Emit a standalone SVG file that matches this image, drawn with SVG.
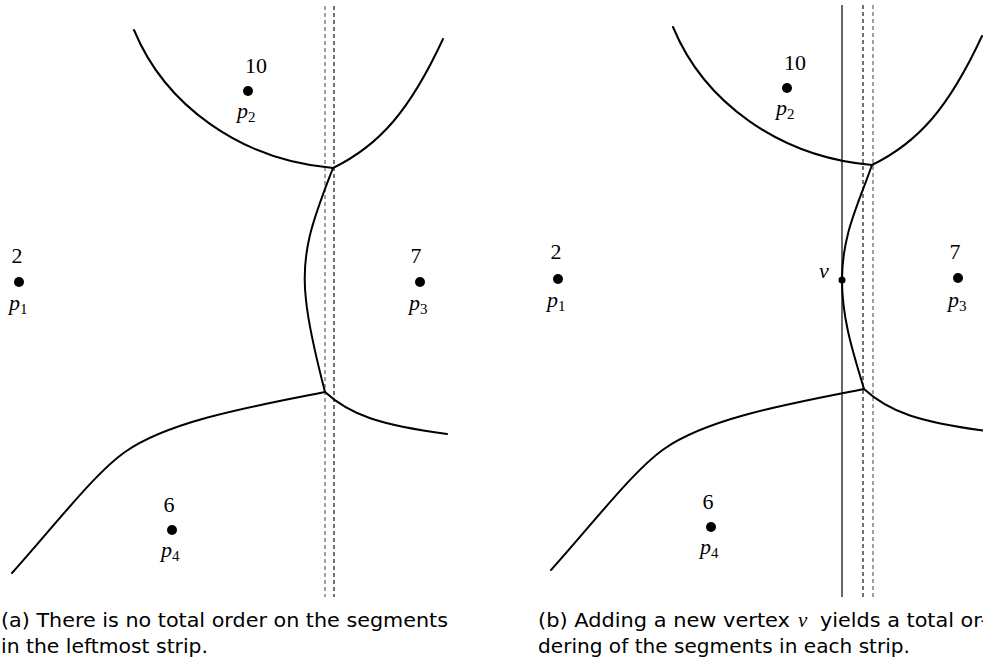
<svg xmlns="http://www.w3.org/2000/svg" width="983" height="665" viewBox="0 0 983 665">
<style>
.edge{fill:none;stroke:#000;stroke-width:2;stroke-linejoin:round;stroke-linecap:round}
.dash{fill:none;stroke:#000;stroke-width:1.1;stroke-dasharray:4 3}
.dashg{fill:none;stroke:#555;stroke-width:1.1;stroke-dasharray:4 3}
.solid{fill:none;stroke:#000;stroke-width:1.2}
.num{font-family:"Liberation Serif",serif;font-size:22px;text-anchor:middle;fill:#000}
.lab{font-family:"Liberation Serif",serif;font-size:22px;font-style:italic;fill:#000}
.sub{font-style:normal;font-size:15px}
.cap{font-family:"DejaVu Sans","Liberation Sans",sans-serif;font-size:19px;fill:#000}
.capv{font-family:"Liberation Serif",serif;font-style:italic;font-size:21px}
</style>
<rect width="983" height="665" fill="#fff"/>

<!-- Left panel (a) -->
<g id="panel-a">
  <g id="strips-a">
    <line class="dashg" x1="325" y1="6" x2="325" y2="597"/>
    <line class="dash" x1="334" y1="6" x2="334" y2="597"/>
  </g>
  <g id="edges-a">
    <path class="edge" d="M134,30 C165,105 240,160 333,168"/>
    <path class="edge" d="M333,168 C380,145 410,110 443,39"/>
    <path class="edge" d="M333,168 C315,215 300,250 306,300 C309,330 318,365 325,392"/>
    <path class="edge" d="M325,392 C260,405 170,420 125,452 C95,473 55,525 12,573"/>
    <path class="edge" d="M325,392 C350,415 380,425 447,434"/>
  </g>
  <g id="a-p1">
    <circle cx="19" cy="282" r="5"/>
    <text class="num" x="17" y="263">2</text>
    <text class="lab" x="9" y="310">p<tspan class="sub" dy="4">1</tspan></text>
  </g>
  <g id="a-p2">
    <circle cx="248" cy="91" r="5"/>
    <text class="num" x="256" y="73">10</text>
    <text class="lab" x="237" y="118">p<tspan class="sub" dy="4">2</tspan></text>
  </g>
  <g id="a-p3">
    <circle cx="420" cy="282" r="5"/>
    <text class="num" x="416" y="263">7</text>
    <text class="lab" x="409" y="310">p<tspan class="sub" dy="4">3</tspan></text>
  </g>
  <g id="a-p4">
    <circle cx="172" cy="530" r="5"/>
    <text class="num" x="169" y="512">6</text>
    <text class="lab" x="161" y="557">p<tspan class="sub" dy="4">4</tspan></text>
  </g>
  <g id="caption-a">
    <text class="cap" x="1" y="627" textLength="447" lengthAdjust="spacingAndGlyphs">(a) There is no total order on the segments</text>
    <text class="cap" x="1" y="653" textLength="207" lengthAdjust="spacingAndGlyphs">in the leftmost strip.</text>
  </g>
</g>

<!-- Right panel (b) -->
<g id="panel-b">
  <g id="strips-b">
    <line class="solid" x1="842" y1="5" x2="842" y2="597"/>
    <line class="dash" x1="863" y1="5" x2="863" y2="597"/>
    <line class="dashg" x1="873" y1="5" x2="873" y2="597"/>
  </g>
  <g id="edges-b">
    <path class="edge" d="M673,27 C704,102 779,157 872,165"/>
    <path class="edge" d="M872,165 C919,142 949,107 982,36"/>
    <path class="edge" d="M872,165 C858,205 842,235 842,280 C842,320 854,355 864,389"/>
    <path class="edge" d="M864,389 C799,402 709,417 664,449 C634,470 594,522 551,570"/>
    <path class="edge" d="M864,389 C889,412 919,422 986,431"/>
  </g>
  <g id="b-p1">
    <circle cx="558" cy="279" r="5"/>
    <text class="num" x="556" y="259">2</text>
    <text class="lab" x="547" y="307">p<tspan class="sub" dy="4">1</tspan></text>
  </g>
  <g id="b-p2">
    <circle cx="787" cy="88" r="5"/>
    <text class="num" x="795" y="70">10</text>
    <text class="lab" x="776" y="115">p<tspan class="sub" dy="4">2</tspan></text>
  </g>
  <g id="b-p3">
    <circle cx="958" cy="278" r="5"/>
    <text class="num" x="955" y="259">7</text>
    <text class="lab" x="948" y="307">p<tspan class="sub" dy="4">3</tspan></text>
  </g>
  <g id="b-p4">
    <circle cx="711" cy="527" r="5"/>
    <text class="num" x="708" y="509">6</text>
    <text class="lab" x="700" y="554">p<tspan class="sub" dy="4">4</tspan></text>
  </g>
  <g id="b-v">
    <circle cx="842" cy="280" r="3.5"/>
    <text class="lab" x="824" y="278" text-anchor="middle">v</text>
  </g>
  <g id="caption-b">
    <text class="cap" x="538" y="627" textLength="252" lengthAdjust="spacingAndGlyphs">(b) Adding a new vertex</text>
    <text class="cap capv" x="798" y="627">v</text>
    <text class="cap" x="820" y="627" textLength="168" lengthAdjust="spacingAndGlyphs">yields a total or-</text>
    <text class="cap" x="538" y="653" textLength="372" lengthAdjust="spacingAndGlyphs">dering of the segments in each strip.</text>
  </g>
</g>
</svg>
